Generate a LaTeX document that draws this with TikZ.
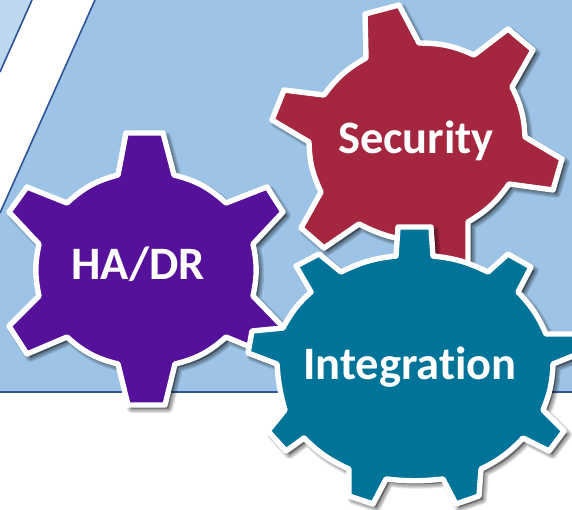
\documentclass[tikz,border=0pt]{standalone}
\usepackage{fontspec}
\setmainfont{Carlito}
\newfontfamily\labelfont[Ligatures=CommonOff]{Carlito}
\definecolor{bgblue}{HTML}{9DC3E6}
\definecolor{palebg}{HTML}{BDD7EE}
\definecolor{rule}{HTML}{2F5597}
\definecolor{gpurple}{HTML}{56119A}
\definecolor{gred}{HTML}{A4263F}
\definecolor{gteal}{HTML}{007398}
\newcommand\gearPurple{(126,133) -- (163,133) -- (174,175) to[bend left=14] (226,203) -- (267,187) -- (283,212) -- (253,244) to[bend left=12] (253,296) -- (283,327) -- (267,354) -- (226,337) to[bend left=14] (175,364) -- (165,405) -- (128,405) -- (118,364) to[bend left=14] (67,337) -- (27,354) -- (9,326) -- (39,296) to[bend left=12] (39,244) -- (9,212) -- (27,187) -- (67,203) to[bend left=14] (118,175) -- cycle}
\newcommand\gearRed{(365,14) -- (399,5) -- (419,43) to[bend left=12] (474,55) -- (508,29) -- (533,50) -- (512,87) to[bend left=12] (525,137) -- (562,159) -- (553,190) -- (509,184) to[bend left=12] (468,222) -- (468,270) -- (420,270) -- (405,240) to[bend left=8] (359,224) -- (324,248) -- (301,228) -- (321,192) to[bend left=12] (309,142) -- (272,120) -- (284,90) -- (324,95) to[bend left=12] (366,58) -- cycle}
\newcommand\gearTeal{(398,227) -- (431,227) -- (433,256) to[bend left=10] (488,272) -- (508,254) -- (531,267) -- (518,292) to[bend left=10] (546,334) -- (580,334) -- (580,353) -- (553,364) to[bend left=10] (543,410) -- (564,431) -- (549,451) -- (523,438) to[bend left=10] (481,469) -- (479,496) -- (456,504) -- (443,479) to[bend left=6] (386,479) -- (373,504) -- (349,496) -- (349,469) to[bend left=10] (304,438) -- (286,451) -- (268,431) -- (285,410) to[bend left=6] (277,364) -- (248,353) -- (252,331) -- (283,328) to[bend left=10] (311,292) -- (296,266) -- (319,254) -- (341,272) to[bend left=10] (396,256) -- cycle}
\newcommand\softshadow[1]{%
  \foreach \w in {9,7,5,3}{%
    \fill[black,opacity=.10,draw=black,line width=\w pt,line join=round,shift={(3.5,3.5)}] #1;}}
\tikzset{
  gearshape/.style={draw=white,line width=5.4pt,line join=round,fill=#1},
  gearlabel/.style={text=white,font=\labelfont\bfseries\fontsize{46.5}{46.5}\selectfont,inner sep=0pt,anchor=base},
  edgeline/.style={draw=rule,line width=1.6pt}
}
\begin{document}
\begin{tikzpicture}[x=1pt,y=-1pt]
\useasboundingbox (0,0) rectangle (572,509);
\fill[white] (0,0) rectangle (572,509);
\begin{scope}
\clip (0,0) rectangle (572,509);
\fill[palebg] (0,0) -- (32,0) -- (0,72) -- cycle;
\fill[bgblue] (95,0) -- (572,0) -- (572,392) -- (0,392) -- (0,213) -- cycle;
\coordinate (pa) at (32,0);
\coordinate (pb) at (0,72);
\coordinate (qa) at (95,0);
\coordinate (qb) at (0,213);
\coordinate (ra) at (0,392);
\coordinate (rb) at (572,392);
\draw[edgeline] (pa) -- (pb);
\draw[edgeline] (qa) -- (qb);
\draw[edgeline] (ra) -- (rb);
\softshadow{\gearPurple}
\draw[gearshape=gpurple] \gearPurple;
\softshadow{\gearRed}
\draw[gearshape=gred] \gearRed;
\softshadow{\gearTeal}
\draw[gearshape=gteal] \gearTeal;
\end{scope}
\node[gearlabel] (hadr) at (138,279) {HA/DR};
\node[gearlabel] (sec) at (416,153) {Security};
\node[gearlabel] (integ) at (410,379) {Integration};
\end{tikzpicture}
\end{document}
